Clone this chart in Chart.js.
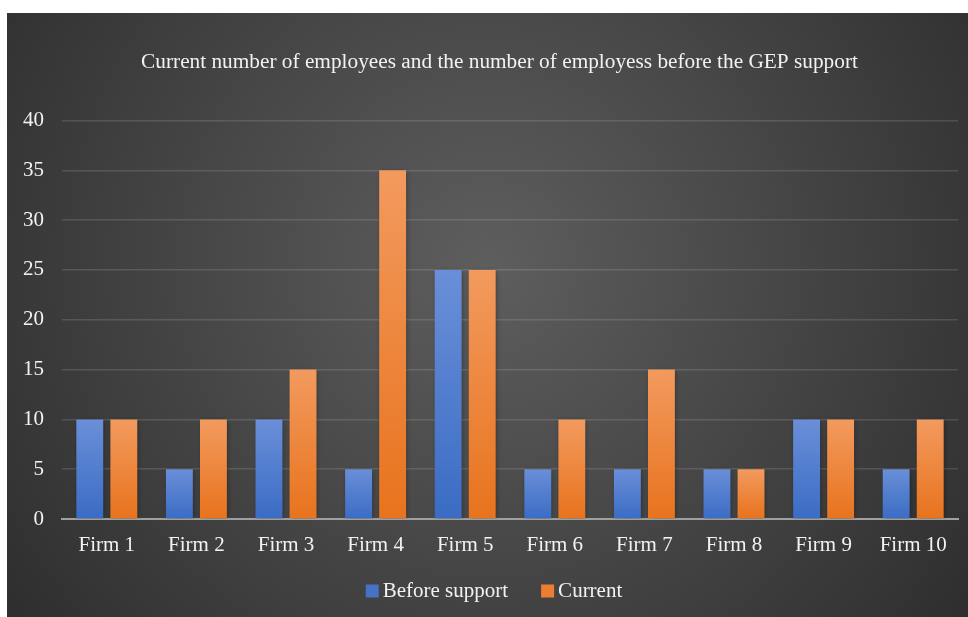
<!DOCTYPE html>
<html>
<head>
<meta charset="utf-8">
<script src="https://cdn.jsdelivr.net/npm/chart.js@4"></script>
<style>
  html, body { margin: 0; padding: 0; background: #fff; }
  #wrap { position: absolute; left: 7px; top: 13px; width: 961px; height: 604px; }
</style>
</head>
<body>
<div id="wrap"><canvas id="empChart"></canvas></div>
<script>
const firms = ['Firm 1','Firm 2','Firm 3','Firm 4','Firm 5','Firm 6','Firm 7','Firm 8','Firm 9','Firm 10'];
const beforeSupport = [10, 5, 10, 5, 25, 5, 5, 5, 10, 5];
const current = [10, 10, 15, 35, 25, 10, 15, 5, 10, 10];
const yTicks = [0, 5, 10, 15, 20, 25, 30, 35, 40];
const seriesColors = ['#4472c4', '#ed7d31'];

const FONT = "'Liberation Serif', 'Times New Roman', serif";
const FS = 21;
const LEG_BOX = 29.5; // legend slot width, the little square is drawn by hand

// vertical gradient per bar, light top -> darker base
function barFill(top, bottom, flat){
  return function(c){
    const chart = c.chart;
    if(!chart.chartArea || c.raw === undefined) return flat;
    const y = chart.scales.y;
    const y0 = y.getPixelForValue(c.raw), y1 = y.getPixelForValue(0);
    if(Math.abs(y1 - y0) < 1) return flat;
    const g = chart.ctx.createLinearGradient(0, y0, 0, y1);
    g.addColorStop(0, top);
    g.addColorStop(1, bottom);
    return g;
  };
}

const panelBg = {
  id: 'panelBg',
  afterLayout(chart){
    // title sits a little right of centre in the original
    if(chart.titleBlock){ chart.titleBlock.left += 34; }
  },
  beforeDraw(chart){
    const {ctx, width, height} = chart;
    const g = ctx.createRadialGradient(width*0.5, height*0.42, 0, width*0.5, height*0.42, width*0.62);
    g.addColorStop(0, '#5e5e5e');
    g.addColorStop(1, '#2e2e2e');
    ctx.save();
    ctx.fillStyle = g;
    ctx.fillRect(0, 0, width, height);
    ctx.restore();
  },
  beforeDatasetsDraw(chart){
    const ctx = chart.ctx;
    ctx.save();
    ctx.shadowColor = 'rgba(0,0,0,0.35)';
    ctx.shadowBlur = 5;
    ctx.shadowOffsetX = 1;
    ctx.shadowOffsetY = 1;
  },
  afterDatasetsDraw(chart){
    chart.ctx.restore();
  },
  afterDraw(chart){
    // legend squares sit right next to the text
    const lg = chart.legend, ctx = chart.ctx;
    if(!lg || !lg.legendHitBoxes) return;
    ctx.save();
    lg.legendHitBoxes.forEach((hb, i) => {
      const textX = hb.left + LEG_BOX + FS / 2;
      const cy = hb.top + hb.height / 2;
      ctx.fillStyle = seriesColors[i];
      ctx.fillRect(textX - 17, cy - 6.5, 13, 13);
    });
    ctx.restore();
  }
};

const ctx = document.getElementById('empChart').getContext('2d');
const empChart = new Chart(ctx, {
  type: 'bar',
  data: {
    labels: firms,
    datasets: [
      { label: 'Before support', data: beforeSupport,
        backgroundColor: barFill('#6a8fd8', '#3a6cc4', seriesColors[0]),
        borderWidth: 0, categoryPercentage: 0.76, barPercentage: 0.79 },
      { label: 'Current', data: current,
        backgroundColor: barFill('#f29a5e', '#e8731d', seriesColors[1]),
        borderWidth: 0, categoryPercentage: 0.76, barPercentage: 0.79 }
    ]
  },
  plugins: [panelBg],
  options: {
    responsive: true,
    maintainAspectRatio: false,
    animation: false,
    layout: { padding: { left: 0, right: 10, top: 0, bottom: 5.5 } },
    plugins: {
      title: {
        display: true,
        text: 'Current number of employees and the number of employess before the GEP support',
        color: '#f2f2f2',
        font: { family: FONT, size: 21.3, weight: 'normal' },
        padding: { top: 37, bottom: 45 }
      },
      legend: {
        position: 'bottom',
        labels: {
          color: '#f2f2f2',
          font: { family: FONT, size: FS },
          boxWidth: LEG_BOX, boxHeight: 13,
          padding: 10,
          generateLabels(chart){
            return Chart.defaults.plugins.legend.labels.generateLabels(chart).map(it => {
              it.fillStyle = 'rgba(0,0,0,0)';
              it.strokeStyle = 'rgba(0,0,0,0)';
              it.lineWidth = 0;
              return it;
            });
          }
        }
      },
      tooltip: { enabled: false }
    },
    scales: {
      x: {
        grid: { display: false, drawTicks: false },
        border: { display: true, color: '#a0a0a0', width: 2 },
        ticks: { color: '#f2f2f2', font: { family: FONT, size: FS }, padding: 14 },
        afterFit(s){ s.height = 51.5; }
      },
      y: {
        min: 0, max: 40,
        afterBuildTicks(s){ s.ticks = yTicks.map(v => ({ value: v })); },
        grid: { color: 'rgba(255,255,255,0.13)', lineWidth: 1.5, drawTicks: false },
        border: { display: false },
        ticks: { color: '#f2f2f2', font: { family: FONT, size: FS }, padding: 18 },
        afterFit(s){ s.width = 55; }
      }
    }
  }
});
</script>
</body>
</html>
